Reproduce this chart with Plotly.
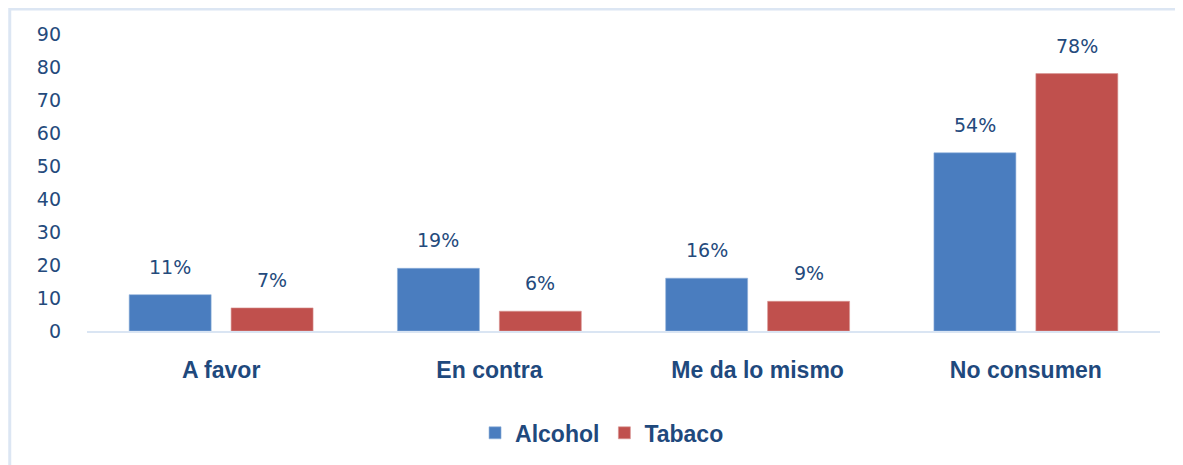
import plotly.graph_objects as go

categories = ["A favor", "En contra", "Me da lo mismo", "No consumen"]
alcohol = [11, 19, 16, 54]
tabaco = [7, 6, 9, 78]
series_names = ["Alcohol", "Tabaco"]
y_ticks = [0, 10, 20, 30, 40, 50, 60, 70, 80, 90]

BLUE = "#4A7DBF"
RED = "#C0504D"
TXT = "#244A7C"
LBL = "#1F497D"

fig = go.Figure()
fig.add_trace(go.Bar(name=series_names[0], x=categories, y=alcohol,
                     marker=dict(color=BLUE, line=dict(color="#8FB0DA", width=0.6))))
fig.add_trace(go.Bar(name=series_names[1], x=categories, y=tabaco,
                     marker=dict(color=RED, line=dict(color="#D99593", width=0.6))))

annotations = []
for vals, shift in ((alcohol, -51), (tabaco, 51)):
    for c, v in zip(categories, vals):
        annotations.append(dict(x=c, y=v, xref="x", yref="y", text=f"{v}%",
                                showarrow=False, xshift=shift, yanchor="bottom",
                                yshift=15, font=dict(family="DejaVu Sans", size=19, color=TXT)))

fig.update_layout(
    width=1183, height=465,
    margin=dict(l=79, r=31, t=26, b=142, autoexpand=False),
    paper_bgcolor="white", plot_bgcolor="white",
    barmode="group", bargap=0.24, bargroupgap=0.196,
    annotations=annotations,
    showlegend=True,
    legend=dict(orientation="h", x=0.48, xanchor="center", y=-0.343, yanchor="middle",
                font=dict(family="Liberation Sans", size=23, color=LBL, weight="bold"),
                itemwidth=30, tracegroupgap=0, bgcolor="rgba(0,0,0,0)"),
    xaxis=dict(showgrid=False, showline=True, linecolor="#DAE5F3", linewidth=2,
               ticks="", ticklabelstandoff=17, automargin=False,
               tickfont=dict(family="Liberation Sans", size=23, color=LBL, weight="bold")),
    yaxis=dict(range=[0, 90], tickvals=y_ticks, showgrid=False, showline=False, zeroline=False,
               ticks="", ticklabelstandoff=25, automargin=False,
               tickfont=dict(family="DejaVu Sans", size=19, color=TXT)),
    shapes=[dict(type="rect", xref="paper", yref="paper",
                 x0=-0.072, x1=1.2, y0=-0.6, y1=1.084,
                 line=dict(color="#DCE6F3", width=3), layer="below")],
)

fig.write_html("out.html")
